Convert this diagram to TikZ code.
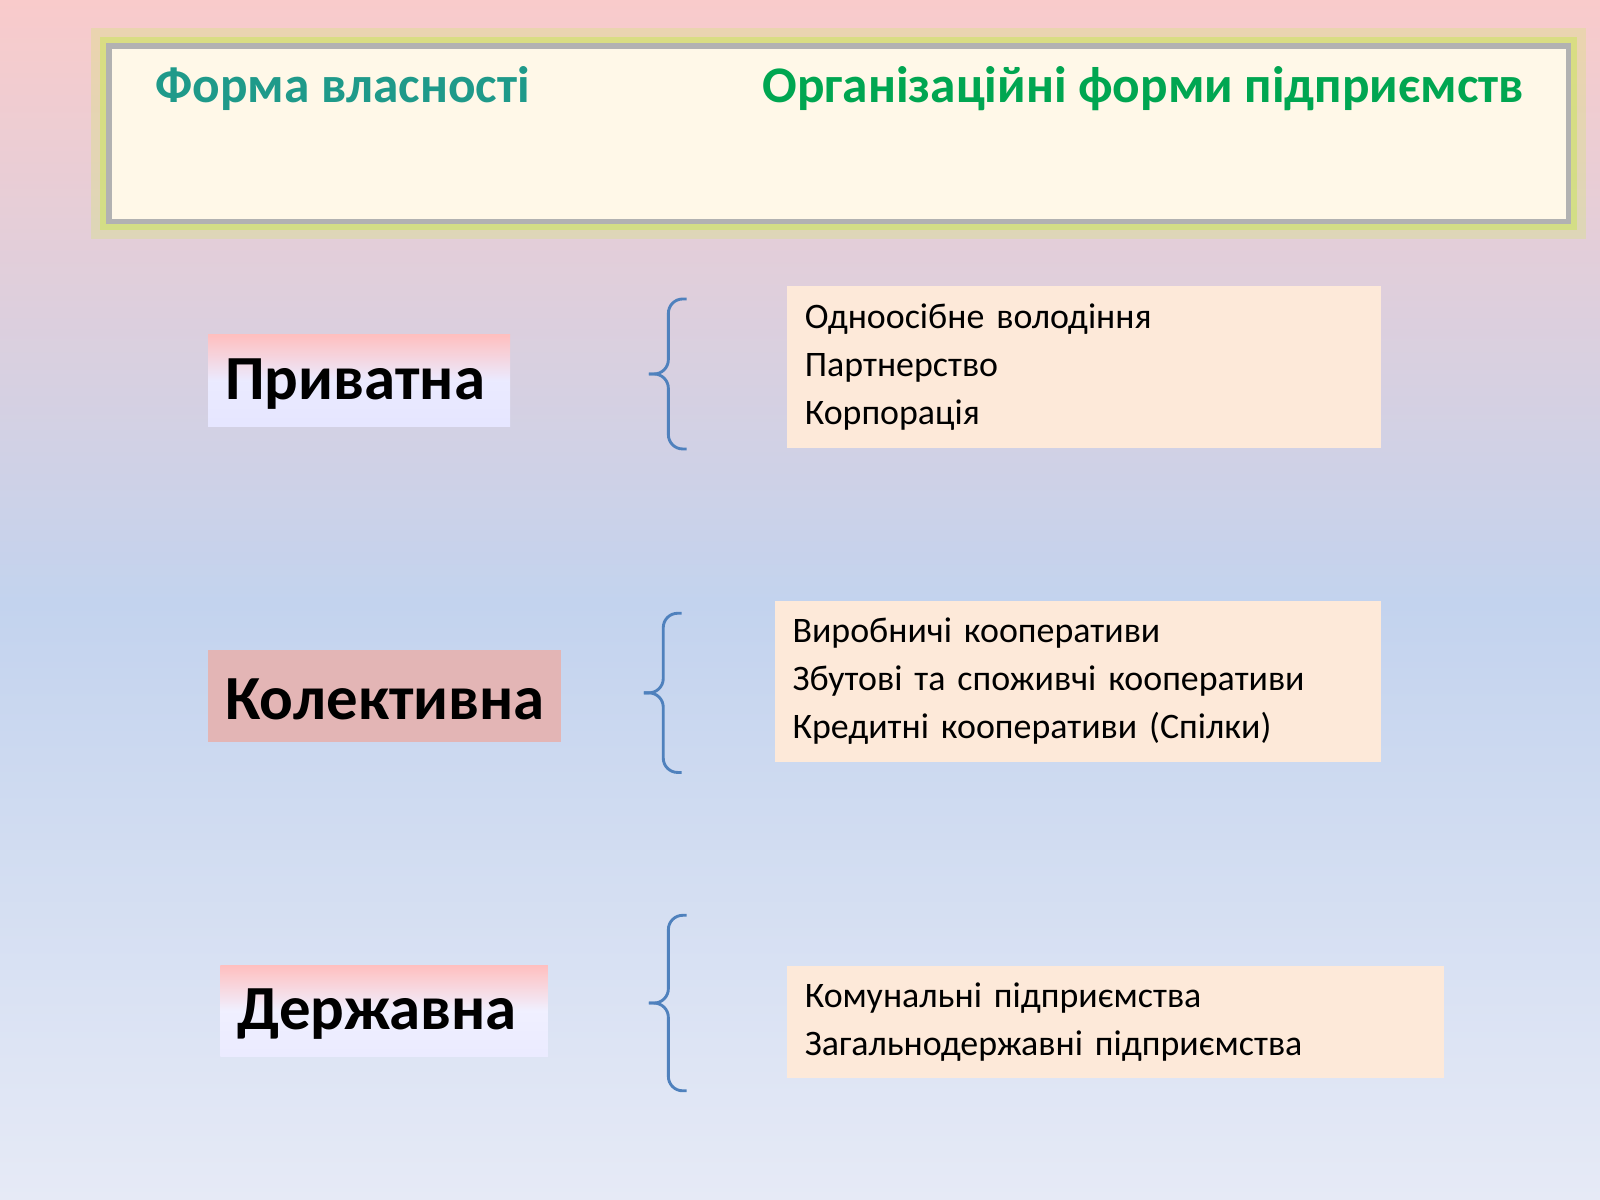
\documentclass[tikz,border=0pt]{standalone}
\usepackage{fontspec}
\setmainfont{Carlito}
\usetikzlibrary{positioning}
\definecolor{bgtop}{HTML}{F9CBCB}
\definecolor{bgmid}{HTML}{C3D3EE}
\definecolor{bgbot}{HTML}{E6EAF6}
\definecolor{cream}{HTML}{FFF8E8}
\definecolor{peach}{HTML}{FDE9D9}
\definecolor{teal}{HTML}{1F9A8A}
\definecolor{grn}{HTML}{00A651}
\definecolor{brace}{HTML}{4F81BD}
\tikzstyle{kindbox} = [rectangle, inner sep=0pt, anchor=west, font=\fontsize{17.5}{20}\selectfont\bfseries]
\tikzstyle{listbox} = [rectangle, fill=peach, anchor=north west, inner xsep=0.17cm, inner ysep=0pt, align=left, font=\fontsize{10}{13.4}\selectfont]
\begin{document}
\begin{tikzpicture}[x=0.01cm,y=-0.01cm]
	\shade[top color=bgtop, bottom color=bgmid, middle color=bgtop!50!bgmid] (0,0) rectangle (1568,590);
	\shade[top color=bgmid, bottom color=bgbot] (0,590) rectangle (1568,1176);
	\useasboundingbox (0,0) rectangle (1568,1176);
	% title box
	\draw[line width=10pt, draw=yellow!70!green!60, opacity=.3] (107,45) rectangle (1537,217);
	\draw[line width=5pt, draw=yellow!70!green!70, opacity=.5] (107,45) rectangle (1537,217);
	\draw[fill=cream, draw=gray!60, line width=1.5pt] (107,45) rectangle (1537,217);
	\node[font=\fontsize{14.3}{16}\selectfont\bfseries, text=teal, anchor=west] (own) at (140,87) {Форма власності};
	\node[font=\fontsize{14.3}{16}\selectfont\bfseries, text=grn, anchor=east] (org) at (1506,87) {Організаційні форми підприємств};
	% kinds
	\shade[top color=red!25, bottom color=blue!10, middle color=blue!8] (204,328) rectangle (500,418);
	\node[kindbox] (priv) at (220,376) {Приватна};
	\fill[red!45!gray!40] (204,637) rectangle (550,727);
	\node[kindbox] (kol) at (220,685) {Колективна};
	\shade[top color=red!25, bottom color=blue!8, middle color=blue!6] (216,946) rectangle (537,1035);
	\node[kindbox] (derzh) at (232,994) {Державна};
	% lists
	\node[listbox, text width=5.47cm, minimum height=1.58cm] (l1) at (771,280) {Одноосібне володіння\\Партнерство\\Корпорація};
	\node[listbox, text width=5.59cm, minimum height=1.58cm] (l2) at (759,588) {Виробничі кооперативи\\Збутові та споживчі кооперативи\\Кредитні кооперативи (Спілки)};
	\node[listbox, text width=6.09cm, minimum height=1.10cm] (l3) at (771,946) {Комунальні підприємства\\Загальнодержавні підприємства};
	% braces
	\foreach \x/\t/\b in {655/293/440, 650/601/757, 655/897/1069}{
		\pgfmathsetmacro{\m}{(\t+\b)/2}
		\draw[brace, line width=.8pt, rounded corners=4pt] (\x+18,\t) -- (\x,\t) -- (\x,\m) -- (\x-19,\m);
		\draw[brace, line width=.8pt, rounded corners=4pt] (\x-19,\m) -- (\x,\m) -- (\x,\b) -- (\x+18,\b);
	}
\end{tikzpicture}
\end{document}
